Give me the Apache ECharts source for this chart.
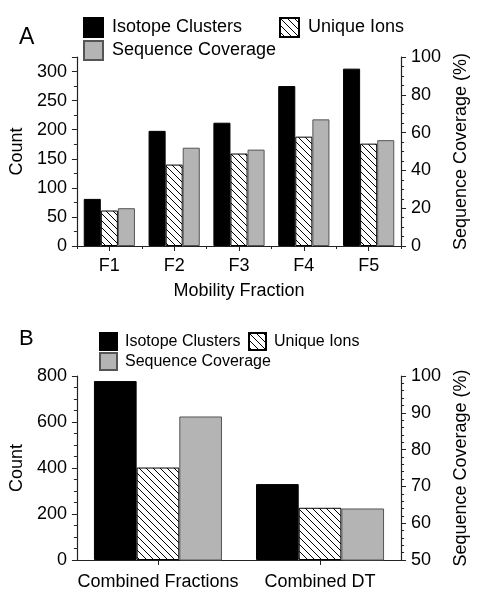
<!DOCTYPE html>
<html lang="en">
<head>
<meta charset="UTF-8">
<title>Mobility fractions</title>
<script src="https://cdn.jsdelivr.net/npm/echarts@6/dist/echarts.min.js"></script>
<style>html, body { margin: 0; padding: 0; background: #fff; }</style>
</head>
<body>
<div id="main" style="width:478px;height:591px;"></div>
<script>
// panel A: per mobility fraction
const fractions = ['F1', 'F2', 'F3', 'F4', 'F5'];
const clustersA = [81, 198, 212, 275, 305];
const ionsA = [61, 140, 159, 188, 176];
const coverageA = [20, 52, 51, 67, 56];

// panel B: combined runs
const combined = ['Combined Fractions', 'Combined DT'];
const clustersB = [778, 330];
const ionsB = [402, 227];
const coverageB = [89, 64];

const FONT = '"Liberation Sans", Arial, sans-serif';
const LINE = '#222';

// diagonal "\" hatch used for the Unique Ions bars
function hatch(size) {
  const c = document.createElement('canvas');
  c.width = size;
  c.height = size;
  const ctx = c.getContext('2d');
  ctx.fillStyle = '#fff';
  ctx.fillRect(0, 0, size, size);
  ctx.strokeStyle = '#000';
  ctx.lineWidth = 1;
  ctx.beginPath();
  ctx.moveTo(-1, -1); ctx.lineTo(size + 1, size + 1);
  ctx.moveTo(size - 1, -1); ctx.lineTo(size + 1, 1);
  ctx.moveTo(-1, size - 1); ctx.lineTo(1, size + 1);
  ctx.stroke();
  return { image: c, repeat: 'repeat' };
}

const blackStyle = { color: '#000', borderColor: '#000', borderWidth: 1 };
const hatchStyle = { color: hatch(7), borderColor: '#000', borderWidth: 1 };
const greyStyle = { color: '#b4b4b4', borderColor: '#555', borderWidth: 1 };

function yAxis(grid, position, min, max, interval, minorSplit, name) {
  return {
    type: 'value', gridIndex: grid, position: position,
    min: min, max: max, interval: interval,
    name: name, nameLocation: 'middle', nameRotate: 90,
    nameGap: position === 'left' ? 41 : 50,
    nameTextStyle: { fontSize: 18, color: '#000', fontFamily: FONT },
    axisLine: { show: true, lineStyle: { color: LINE, width: 1.2 } },
    axisTick: { show: true, inside: false, length: 5, lineStyle: { color: LINE } },
    minorTick: { show: true, splitNumber: minorSplit, length: 3, lineStyle: { color: LINE } },
    splitLine: { show: false },
    axisLabel: {
      fontSize: 18, color: '#000', fontFamily: FONT, margin: 10,
      formatter: v => (v % interval === 0 ? String(v) : '')
    }
  };
}

function xAxis(grid, data, name, labelMargin) {
  return {
    type: 'category', gridIndex: grid, position: 'bottom', data: data,
    name: name, nameLocation: 'middle', nameGap: 36,
    nameTextStyle: { fontSize: 18, color: '#000', fontFamily: FONT },
    axisLine: { show: true, lineStyle: { color: LINE, width: 1.2 } },
    axisTick: { show: true, alignWithLabel: true, length: 5, lineStyle: { color: LINE } },
    axisLabel: { interval: 0, fontSize: 18, color: '#000', fontFamily: FONT, margin: labelMargin },
    splitLine: { show: false }
  };
}

function legendItem(name, left, top, box, fontSize, gap) {
  return {
    data: [name], left: left, top: top, padding: 0,
    icon: 'rect', itemWidth: box, itemHeight: box, selectedMode: false,
    textStyle: { fontSize: fontSize, color: '#000', fontFamily: FONT, padding: [0, 0, 0, gap] }
  };
}

function bar(name, x, y, data, style) {
  return {
    name: name, type: 'bar', xAxisIndex: x, yAxisIndex: y, data: data,
    itemStyle: style, barGap: 0, barCategoryGap: '21%', animation: false
  };
}

const chart = echarts.init(document.getElementById('main'));
chart.setOption({
  backgroundColor: '#fff',
  animation: false,
  textStyle: { fontFamily: FONT },
  title: [
    { text: 'A', left: 19, top: 26, padding: 0, textStyle: { fontSize: 23, fontWeight: 'normal', color: '#000', fontFamily: FONT } },
    { text: 'B', left: 19, top: 328, padding: 0, textStyle: { fontSize: 22, fontWeight: 'normal', color: '#000', fontFamily: FONT } }
  ],
  legend: [
    legendItem('Isotope Clusters', 83, 17, 19, 18, 4),
    legendItem('Unique Ions', 279, 17, 19, 18, 4),
    legendItem('Sequence Coverage', 83, 40, 19, 18, 4),
    legendItem('Isotope Clusters', 99, 332, 17, 16, 3),
    legendItem('Unique Ions', 248, 332, 17, 16, 3),
    legendItem('Sequence Coverage', 99, 352, 17, 16, 3)
  ],
  grid: [
    { left: 74, top: 57, width: 338, height: 189 },
    { left: 74, top: 376, width: 338, height: 189 }
  ],
  xAxis: [
    xAxis(0, fractions, 'Mobility Fraction', 11),
    xAxis(1, combined, '', 13),
    // short ticks between the fractions
    {
      type: 'category', gridIndex: 0, position: 'bottom', data: fractions,
      axisLine: { show: false }, axisLabel: { show: false },
      axisTick: { show: true, length: 3, lineStyle: { color: LINE } }
    }
  ],
  yAxis: [
    yAxis(0, 'left', 0, 325, 50, 2, 'Count'),
    yAxis(0, 'right', 0, 100, 20, 4, 'Sequence Coverage (%)'),
    yAxis(1, 'left', 0, 800, 200, 4, 'Count'),
    yAxis(1, 'right', 50, 100, 10, 5, 'Sequence Coverage (%)')
  ],
  series: [
    bar('Isotope Clusters', 0, 0, clustersA, blackStyle),
    bar('Unique Ions', 0, 0, ionsA, hatchStyle),
    bar('Sequence Coverage', 0, 1, coverageA, greyStyle),
    bar('Isotope Clusters', 1, 2, clustersB, blackStyle),
    bar('Unique Ions', 1, 2, ionsB, hatchStyle),
    bar('Sequence Coverage', 1, 3, coverageB, greyStyle)
  ]
});
</script>
</body>
</html>
